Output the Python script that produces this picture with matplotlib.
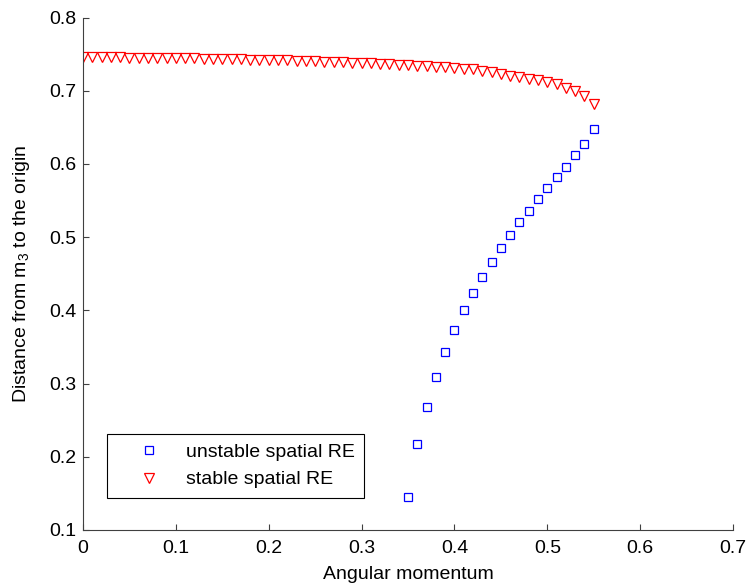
import numpy as np
import matplotlib
matplotlib.use("Agg")
import matplotlib.pyplot as plt

plt.rcParams['font.family'] = ['Liberation Sans', 'DejaVu Sans']
plt.rcParams['mathtext.fontset'] = 'custom'
plt.rcParams['mathtext.rm'] = 'Liberation Sans'
plt.rcParams['mathtext.it'] = 'Liberation Sans'

# unstable branch (blue squares)
L_unstable = [0.35, 0.36, 0.37, 0.38, 0.39, 0.40, 0.41, 0.42, 0.43, 0.44, 0.45,
              0.46, 0.47, 0.48, 0.49, 0.50, 0.51, 0.52, 0.53, 0.54, 0.55]
r_unstable = [0.1454, 0.217, 0.268, 0.3085, 0.3426, 0.373, 0.400, 0.424, 0.4458,
              0.4659, 0.4854, 0.5032, 0.5201, 0.536, 0.5519, 0.5669, 0.5815,
              0.596, 0.6116, 0.627, 0.6471]

# stable branch (red triangles), L = 0.00 ... 0.55
L_stable = [round(0.01 * i, 2) for i in range(56)]
r_stable = [0.7455, 0.7455, 0.7455, 0.7455, 0.7454, 0.7453, 0.7452, 0.7451,
            0.7450, 0.7448, 0.7446, 0.7444, 0.7442, 0.7440, 0.7437, 0.7434,
            0.7431, 0.7428, 0.7425, 0.7422, 0.7419, 0.7416, 0.7413, 0.7410,
            0.7406, 0.7402, 0.7398, 0.7394, 0.7389, 0.7384, 0.7379, 0.7374,
            0.7368, 0.7362, 0.7356, 0.7349, 0.7342, 0.7335, 0.7327, 0.7319,
            0.7310, 0.7300, 0.7290, 0.7275, 0.7250, 0.7225, 0.7208, 0.7189,
            0.7167, 0.7148, 0.7120, 0.7090, 0.7044, 0.7003, 0.6934, 0.6825]

fig = plt.figure(figsize=(7.48, 5.84), dpi=100)
ax = fig.add_axes([0.111, 0.0925, 0.869, 0.8775])

ax.plot(L_unstable, r_unstable, linestyle='none', marker='s', markersize=6,
        markerfacecolor='none', markeredgecolor='blue', markeredgewidth=0.9,
        label='unstable spatial RE')
ax.plot(L_stable, r_stable, linestyle='none', marker='v', markersize=7.5,
        markerfacecolor='none', markeredgecolor='red', markeredgewidth=0.9,
        label='stable spatial RE')

ax.set_xlim(0, 0.7)
ax.set_ylim(0.1, 0.8)
ax.set_xticks(np.arange(0, 0.71, 0.1))
ax.set_yticks(np.arange(0.1, 0.81, 0.1))
ax.set_xticklabels(['0', '0.1', '0.2', '0.3', '0.4', '0.5', '0.6', '0.7'])
ax.set_yticklabels(['0.1', '0.2', '0.3', '0.4', '0.5', '0.6', '0.7', '0.8'])

for side in ['top', 'right']:
    ax.spines[side].set_visible(False)
for side in ['left', 'bottom']:
    ax.spines[side].set_color('#404040')
    ax.spines[side].set_linewidth(0.8)
ax.tick_params(direction='in', length=4.5, width=0.8, color='#404040',
               labelsize=14, labelcolor='black')
ax.tick_params(axis='x', pad=7)
ax.tick_params(axis='y', pad=5)

ax.set_xlabel('Angular momentum', fontsize=14, labelpad=7)
ax.set_ylabel('Distance from m$_3$ to the origin', fontsize=14, labelpad=12)

leg = ax.legend(loc='lower left', bbox_to_anchor=(0.037, 0.062), borderaxespad=0,
                fontsize=14, handlelength=3.3, handletextpad=0.25,
                labelspacing=0.5, borderpad=0.5, fancybox=False,
                edgecolor='black', framealpha=1)
leg.get_frame().set_linewidth(0.8)

fig.savefig('out.png', dpi=100)
plt.close(fig)
